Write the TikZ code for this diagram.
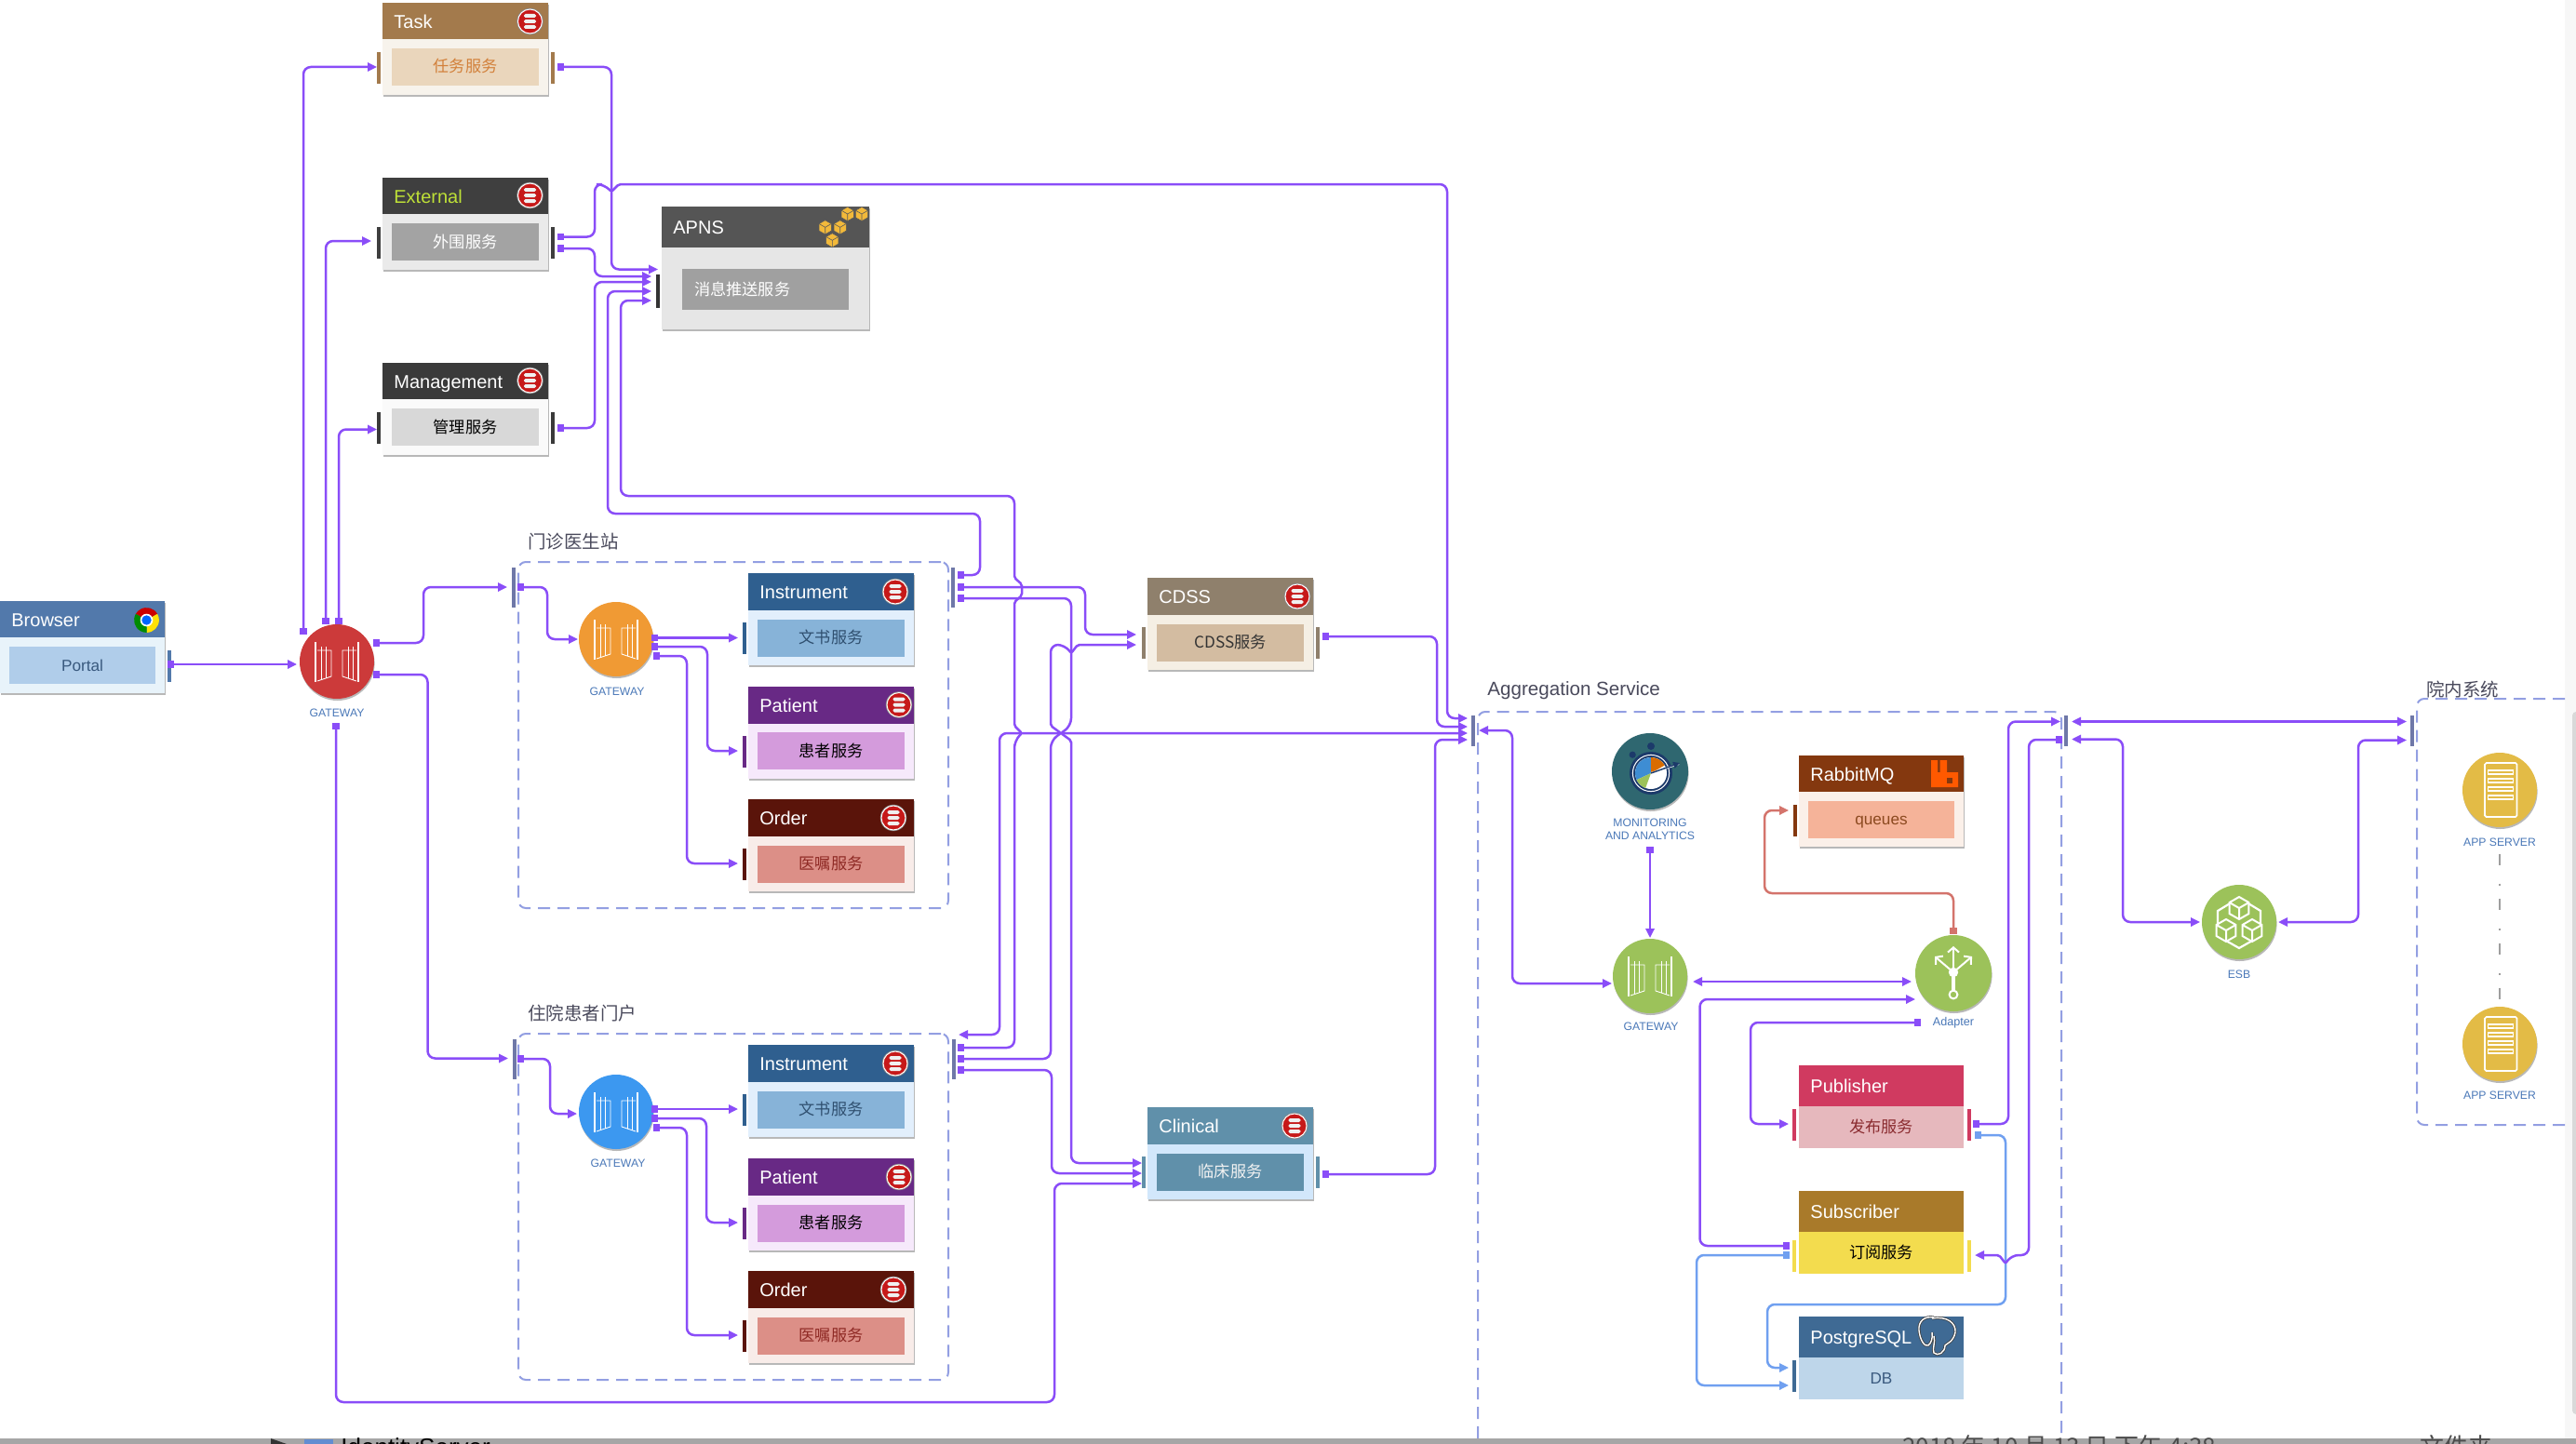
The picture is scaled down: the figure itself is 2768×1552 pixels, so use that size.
\documentclass[tikz,border=0pt]{standalone}
\usepackage{fontspec}
\setmainfont{Liberation Sans}
\newfontfamily\cjk{Noto Sans CJK SC}
\usetikzlibrary{arrows.meta,calc,shadows}

\definecolor{lnk}{HTML}{8A4DF8}
\definecolor{lnkblue}{HTML}{70A0F0}
\definecolor{lnkred}{HTML}{D4746C}
\definecolor{dashc}{HTML}{939FE2}
\definecolor{portc}{HTML}{6F78A8}
\definecolor{labelc}{HTML}{4A78B8}
\definecolor{grptext}{HTML}{4A4A5C}

\newcommand{\palette}[5]{%
  \definecolor{#1H}{HTML}{#2}\definecolor{#1B}{HTML}{#3}%
  \definecolor{#1I}{HTML}{#4}\definecolor{#1T}{HTML}{#5}}
\palette{task}{A37A4C}{F7F3EC}{EAD6BC}{D2803A}
\palette{ext}{3F3F3F}{EAEAEA}{A3A3A3}{FFFFFF}
\palette{mgt}{3A3A3A}{FAFAFA}{D8D8D8}{000000}
\palette{apns}{555555}{E6E6E6}{A0A0A0}{FFFFFF}
\palette{brw}{5279AB}{E8F3FA}{B0CDEA}{3A5A7F}
\palette{ins}{2F5F8F}{E2EFFC}{87B3D8}{2F4F6F}
\palette{pat}{682985}{F6E9FB}{D49BDC}{000000}
\palette{ord}{5A140A}{F8ECE9}{DC8F87}{8F2A25}
\palette{cds}{8F806C}{F5EFE4}{D3BCA1}{333333}
\palette{cli}{6090AA}{D2E7FB}{6090AA}{F2F2F2}
\palette{rab}{84380F}{FBF0E9}{F5B399}{8C4A20}
\palette{pub}{D03A60}{E6B8BD}{E6B8BD}{8A2B2F}
\palette{sub}{A97A2A}{F3DC4E}{F3DC4E}{000000}
\palette{pgs}{3F6A94}{BED6EA}{BED6EA}{3A5A7F}
\definecolor{gwredc}{HTML}{CC3A3A}
\definecolor{gworangec}{HTML}{F09A34}
\definecolor{gwbluec}{HTML}{3C98F0}
\definecolor{gwgreenc}{HTML}{9CC25A}
\definecolor{monitorc}{HTML}{2F6770}
\definecolor{serverc}{HTML}{E3BB46}
\definecolor{dialc}{HTML}{1C3A6A}
\definecolor{awsc}{HTML}{F2B93A}

\tikzset{
  softshadow/.style={drop shadow={shadow xshift=0.3pt,shadow yshift=-1pt,opacity=0.28,fill=black}},
  svcbody/.style={rectangle,anchor=north west,inner sep=0pt,outer sep=0pt,softshadow},
  svchead/.style={rectangle,anchor=north west,inner sep=0pt,outer sep=0pt},
  svctitle/.style={anchor=west,inner sep=0pt,yshift=-1.2pt,text=white,text height=7.2pt,text depth=2pt,font=\fontsize{10}{12}\selectfont},
  svcinner/.style={rectangle,inner sep=0pt,outer sep=0pt,text height=6.5pt,text depth=0.5pt,font=\fontsize{8.6}{10}\selectfont},
  portbar/.style={rectangle,inner sep=0pt,minimum width=2pt,minimum height=17pt},
  groupport/.style={portbar,fill=portc,minimum height=21.5pt},
  hostport/.style={portbar,fill=portc,minimum height=16.5pt},
  groupbox/.style={rectangle,draw=dashc,line width=1pt,dash pattern=on 6.5pt off 4pt,rounded corners=4pt,inner sep=0pt},
  grouptitle/.style={anchor=west,inner sep=0pt,text=grptext,font=\fontsize{9.75}{12}\selectfont},
  hub/.style={circle,minimum size=40pt,inner sep=0pt,softshadow},
  hublabel/.style={inner sep=0pt,align=center,yshift=-0.4pt,text=labelc,font=\fontsize{6.1}{7}\selectfont},
  link/.style={draw=lnk,line width=1.25pt,rounded corners=4pt,{Square[length=3.6pt]}-{Triangle[length=5pt,width=4.6pt]}},
  linkboth/.style={link,{Triangle[length=5pt,width=4.6pt]}-{Triangle[length=5pt,width=4.6pt]}},
  hop/.style={rounded corners=1pt},
}

% one service box: name, palette, x, y, w, h, header, title, text
\newcommand{\svcbox}[9]{%
  \node[svcbody,fill=#2B,minimum width=#5*0.5pt,minimum height=#6*0.5pt] (#1) at (#3,#4) {};
  \node[svchead,fill=#2H,minimum width=#5*0.5pt,minimum height=#7*0.5pt] (#1Head) at (#3,#4) {};
  \node[svctitle] (#1Title) at (#3+12,#4+#7/2) {#8};
  \node[svcinner,fill=#2I,text=#2T,minimum width=(#5-20)*0.5pt,minimum height=20pt] (#1Inner) at (#3+#5/2,{#4+(#6+#7)/2}) {#9};
}
% boxes of the aggregation group have no inset
\newcommand{\flatbox}[6]{%
  \node[svchead,fill=#2H,minimum width=88.5pt,minimum height=22pt] (#1Head) at (#3,#4) {};
  \node[svchead,fill=#2B,text=#2T,minimum width=88.5pt,minimum height=22.5pt,text height=6.5pt,text depth=0.5pt,font=\fontsize{8.6}{10}\selectfont] (#1) at (#3,#4+44) {#6};
  \node[svctitle] (#1Title) at (#3+12,#4+22) {#5};
}
\newcommand{\lport}[2]{\node[portbar,fill=#2H] (#1L) at ($(#1.north west)+(-4.5,70)$) {};}
\newcommand{\rport}[2]{\node[portbar,fill=#2H] (#1R) at ($(#1.north east)+(5,70)$) {};}

\newcommand{\dbicon}[2]{%
  \begin{scope}[shift={(#1,#2)}]
    \fill[black!45] (0,0) circle[radius=7.1pt];
    \filldraw[fill=red!75!black!90,draw=white,line width=0.5pt] (0,0) circle[radius=6.5pt];
    \foreach \b in {-6,0,6}
      \fill[white!88!gray,rounded corners=0.8pt] (-6.5,\b-2) rectangle (6.5,\b+2);
  \end{scope}}
\newcommand{\gateicon}[2]{%
  \begin{scope}[shift={(#1,#2)}]
    \foreach \s in {-1,1} {
      \draw[white,line width=1.4pt] (\s*23,-21) -- (\s*23,22);
      \draw[white,line width=0.45pt] (\s*21,-12) -- (\s*6,-12) -- (\s*6,16) -- (\s*21,21);
      \foreach \b in {17,12}
        \draw[white,line width=0.45pt] (\s*\b,-16) -- (\s*\b,{16+(\b-6)/3});
    }
  \end{scope}}
\newcommand{\isocube}[6]{%
  \begin{scope}[shift={(#1,#2)}]
    \filldraw[fill=#4,draw=#5,line width=#6] (0,-#3) -- (0.87*#3,-0.5*#3) -- (0.87*#3,0.5*#3) -- (0,#3)
      -- (-0.87*#3,0.5*#3) -- (-0.87*#3,-0.5*#3) -- cycle;
    \draw[#5,line width=#6] (-0.87*#3,-0.5*#3) -- (0,0) -- (0.87*#3,-0.5*#3) (0,0) -- (0,#3);
  \end{scope}}
\newcommand{\servericon}[2]{%
  \begin{scope}[shift={(#1,#2)},white]
    \draw[line width=0.8pt,rounded corners=0.8pt] (-16,-29) rectangle (18.5,29);
    \foreach \b in {-19,-10,-1,8}
      \draw[line width=0.6pt] (-12.5,\b-2) rectangle (14.5,\b+2);
  \end{scope}}

\begin{document}
\begin{tikzpicture}[x=0.5pt,y=-0.5pt]
\useasboundingbox (0,0) rectangle (2768,1552);
\fill[white] (0,0) rectangle (2768,1552);
\fill[black!3] (2756,0) rectangle (2768,1546);
\fill[black!15,rounded corners=2pt] (2764,765) rectangle (2776,1520);

% groups
\node[groupbox,minimum width=231pt,minimum height=186pt] (clinicGroup) at (788,790) {};
\node[grouptitle] (clinicTitle) at (567,582) {\cjk 门诊医生站};
\node[groupbox,minimum width=231pt,minimum height=186pt] (wardGroup) at (788,1297) {};
\node[grouptitle] (wardTitle) at (567,1089) {\cjk 住院患者门户};
\draw[dashc,line width=1pt,dash pattern=on 6.5pt off 4pt,rounded corners=4pt] (1588,1546) -- (1588,765) -- (2215,765) -- (2215,1546);
\node[grouptitle,font=\fontsize{10.3}{12}\selectfont] (aggTitle) at (1598,742) {Aggregation Service};
\draw[dashc,line width=1pt,dash pattern=on 6.5pt off 4pt,rounded corners=4pt] (2756,751) -- (2597,751) -- (2597,1209) -- (2756,1209);
\node[grouptitle] (hostTitle) at (2607,741) {\cjk 院内系统};

\node[groupport] (clinicL) at (552,631) {};
\node[groupport] (clinicR) at (1023.5,631) {};
\node[groupport] (wardL) at (552.5,1138) {};
\node[groupport] (wardR) at (1024.5,1138) {};
\node[hostport] (aggL) at (1583,785.5) {};
\node[hostport] (aggR) at (2220,785.5) {};
\node[hostport] (hostL) at (2592,785.5) {};

% services
\svcbox{task}{task}{411}{3}{178}{99}{39}{Task}{\cjk 任务服务}
\svcbox{ext}{ext}{411}{191}{178}{99}{39}{\textcolor{yellow!70!green!85}{External}}{\cjk 外围服务}
\svcbox{mgt}{mgt}{411}{390}{178}{99}{39}{Management}{\cjk 管理服务}
\node[svcbody,fill=apnsB,minimum width=111.5pt,minimum height=66pt] (apns) at (711,222) {};
\node[svchead,fill=apnsH,minimum width=111.5pt,minimum height=22pt] (apnsHead) at (711,222) {};
\node[svctitle] (apnsTitle) at (723,244) {APNS};
\node[svcinner,fill=apnsI,minimum width=89.5pt,minimum height=22pt] (apnsInner) at (822.5,311) {};
\node[svcinner,anchor=west,text=white] (apnsText) at (746,311) {\cjk 消息推送服务};
\node[portbar,fill=black!80,minimum height=18pt] (apnsL) at (707,313) {};
\svcbox{brw}{brw}{0}{646}{177}{99}{39}{Browser}{Portal}
\svcbox{insA}{ins}{804}{616}{178}{99}{40}{Instrument}{\cjk 文书服务}
\svcbox{patA}{pat}{804}{737.5}{178}{99}{40}{Patient}{\cjk 患者服务}
\svcbox{ordA}{ord}{804}{859}{178}{99}{40}{Order}{\cjk 医嘱服务}
\svcbox{insB}{ins}{804}{1123}{178}{99}{40}{Instrument}{\cjk 文书服务}
\svcbox{patB}{pat}{804}{1245}{178}{99}{40}{Patient}{\cjk 患者服务}
\svcbox{ordB}{ord}{804}{1366}{178}{99}{40}{Order}{\cjk 医嘱服务}
\svcbox{cds}{cds}{1233}{621}{178}{99}{40}{CDSS}{\cjk CDSS服务}
\svcbox{cli}{cli}{1233}{1190}{178}{99}{40}{Clinical}{\cjk 临床服务}
\svcbox{rab}{rab}{1933}{812}{177}{98}{39}{RabbitMQ}{queues}
\flatbox{pub}{pub}{1933}{1145}{Publisher}{\cjk 发布服务}
\flatbox{sbr}{sub}{1933}{1280}{Subscriber}{\cjk 订阅服务}
\flatbox{pgs}{pgs}{1933}{1415}{PostgreSQL}{DB}

\rport{brw}{brw}
\lport{task}{task} \rport{task}{task}
\lport{ext}{ext} \rport{ext}{ext}
\lport{mgt}{mgt} \rport{mgt}{mgt}
\lport{insA}{ins} \lport{patA}{pat} \lport{ordA}{ord}
\lport{insB}{ins} \lport{patB}{pat} \lport{ordB}{ord}
\lport{cds}{cds} \rport{cds}{cds}
\lport{cli}{cli} \rport{cli}{cli}
\lport{rab}{rab}
\node[portbar,fill=pubH] (pubL) at (1928,1208.5) {};
\node[portbar,fill=pubH] (pubR) at (2116,1208.5) {};
\node[portbar,fill=subB] (sbrL) at (1928,1349.5) {};
\node[portbar,fill=subB] (sbrR) at (2116,1349.5) {};
\node[portbar,fill=pgsH] (pgsL) at (1928,1479) {};

\foreach \x/\y in {569.5/23,569.5/210,569.5/409,962/636,966/757.5,960/879,962/1143,966/1265,960/1386,1394/641,1391/1210} {
  \dbicon{\x}{\y}
}

% icons on the header bars
\foreach \x/\y in {910.7/230,926/230,886.7/244.3,902.7/244.3,894.3/258.3} {
  \isocube{\x}{\y}{7.6}{awsc}{black!65}{0.3pt}
}
\begin{scope}[shift={(157.5,666.5)},y=0.5pt]
  \fill[red!80!black] (0,0) -- (30:6.7pt) arc[start angle=30,end angle=150,radius=6.7pt] -- cycle;
  \fill[yellow!85!orange] (0,0) -- (-90:6.7pt) arc[start angle=-90,end angle=30,radius=6.7pt] -- cycle;
  \fill[green!55!black] (0,0) -- (150:6.7pt) arc[start angle=150,end angle=270,radius=6.7pt] -- cycle;
  \fill[white] (0,0) circle[radius=3.4pt];
  \fill[blue!60!cyan] (0,0) circle[radius=2.6pt];
\end{scope}
\fill[orange!70!red] (2075,817) -- (2082,817) -- (2082,830) -- (2084.5,830) -- (2084.5,817) -- (2092,817) -- (2092,830)
  -- (2104,830) -- (2104,846) -- (2075,846) -- cycle;
\fill[rabH] (2092,836) rectangle (2098,842);
\begin{scope}[shift={(2082,1436)}]
  \foreach \c/\w in {black!75/1.5pt,white/0.7pt}
    \draw[\c,line width=\w] (-4,-20) .. controls (-14,-22) and (-21,-16) .. (-20,-6)
      .. controls (-19,4) and (-14,12) .. (-10,10) .. controls (-7,8) and (-5,2) .. (-6,-4)
      (-6,-19) .. controls (10,-22) and (20,-14) .. (19,-4) .. controls (17,6) and (10,8) .. (8,10)
      .. controls (8,18) and (0,22) .. (-4,18) .. controls (-6,14) and (-2,6) .. (-4,0);
\end{scope}

% gateways
\node[hub,fill=gwredc] (gwRed) at (362,711) {};
\node[hublabel] (gwRedLab) at (362,765) {GATEWAY};
\gateicon{362}{711}
\node[hub,fill=gworangec] (gwOrange) at (662,687) {};
\node[hublabel] (gwOrangeLab) at (663,742) {GATEWAY};
\gateicon{662}{687}
\node[hub,fill=gwbluec] (gwBlue) at (662,1195) {};
\node[hublabel] (gwBlueLab) at (664,1249) {GATEWAY};
\gateicon{662}{1195}
\node[hub,fill=gwgreenc] (gwGreen) at (1773,1049) {};
\node[hublabel] (gwGreenLab) at (1774,1102) {GATEWAY};
\gateicon{1773}{1049}

\node[hub,fill=monitorc,minimum size=41pt] (monitor) at (1773,829) {};
\node[hublabel] (monitorLab) at (1773,890) {MONITORING\\AND ANALYTICS};
\begin{scope}[shift={(1774,831)},y=0.5pt]
  \fill[dialc] (0,0) circle[radius=11.5pt];
  \fill[dialc] (0,14.5pt) circle[radius=2pt] (135:14pt) circle[radius=1.8pt];
  \draw[white,line width=0.5pt] (0,0) circle[radius=9.8pt];
  \fill[white] (0,0) circle[radius=8.5pt];
  \fill[cyan!60!blue!80] (0,0) -- (90:8.5pt) arc[start angle=90,end angle=205,radius=8.5pt] -- cycle;
  \fill[orange!85!black] (0,0) -- (30:8.5pt) arc[start angle=30,end angle=90,radius=8.5pt] -- cycle;
  \fill[gwgreenc] (0,0) -- (205:8.5pt) arc[start angle=205,end angle=250,radius=8.5pt] -- cycle;
  \draw[white,line width=1pt] (0,0) -- (15pt,5pt);
  \draw[dialc,line width=0.7pt,-{Triangle[length=3.5pt,width=3.5pt]}] (0,0) -- (15.5pt,5.5pt);
\end{scope}

\node[hub,fill=gwgreenc,minimum size=41pt] (adapter) at (2099,1046) {};
\node[hublabel,font=\fontsize{6.3}{7}\selectfont] (adapterLab) at (2099,1098) {Adapter};
\begin{scope}[shift={(2099,1045)},white,line width=1pt,-{Straight Barb[length=2.6pt,width=6pt]}]
  \draw (0,0) -- (0,-28);
  \draw (0,0) -- (-20,-17);
  \draw (0,0) -- (20,-17);
  \draw[-,line width=1.8pt] (0,0) -- (0,20);
  \fill[-] (0,0) circle[radius=2.6pt];
  \draw[-,fill=gwgreenc] (0,24) circle[radius=2.2pt];
\end{scope}

\node[hub,fill=gwgreenc] (esb) at (2406,991) {};
\node[hublabel] (esbLab) at (2406,1046) {ESB};
\draw[white,line width=1.1pt] (2383,979) -- (2406,965) -- (2429,979) -- (2429,1006) -- (2406,1019) -- (2383,1006) -- cycle;
\isocube{2406}{976}{12}{gwgreenc}{white}{1pt}
\isocube{2392}{1000}{12}{gwgreenc}{white}{1pt}
\isocube{2420}{1000}{12}{gwgreenc}{white}{1pt}

\node[hub,fill=serverc] (appA) at (2686,849) {};
\node[hublabel] (appALab) at (2686,904) {APP SERVER};
\servericon{2686}{849}
\node[hub,fill=serverc] (appB) at (2686,1122) {};
\node[hublabel] (appBLab) at (2686,1176) {APP SERVER};
\servericon{2686}{1122}
\draw[black!38,line width=1.2pt,dash pattern=on 6pt off 10pt on 1pt off 7pt,shorten <=4pt,shorten >=2pt] (appALab.south) -- (appB.north);

% connector ends
\foreach \n/\x/\y in {gwTask/326/682,gwExt/350/671,gwMgt/364/671,gwClin/361/777,gwOutA/401/691,gwOutB/401/725,
    taskIn/405/72,extIn/399/259,mgtIn/405/461.5,gwIn/319/714,brwOut/180/714,clinicIn/545/631,wardIn/546/1137.5,
    clinicOut/556/631,orgIn/621/687,orgA/700/685.5,orgB/700/695,orgC/702/705,insAIn/793/685.5,patAIn/793/807,ordAIn/793/928,
    wardOut/556/1138,bluIn/620/1197,bluA/700/1192,bluB/700/1202,bluC/702/1212,insBIn/793/1192,patBIn/793/1314,ordBIn/793/1435,
    taskOut/599/72,extOutA/599/254.5,extOutB/599/267,mgtOut/599/460,
    apnsA/707/289.5,apnsB/700/297,apnsC/700/303,apnsD/700/313,apnsE/700/323,
    clinicA/1029/618,clinicB/1029/631,clinicC/1029/643,wardT/1030/1112,wardA/1029/1126,wardB/1029/1138,wardC/1029/1150,
    cdsA/1221/682,cdsB/1221/693,cliA/1227/1250,cliB/1227/1261,cliC/1227/1272,cdsOut/1421/684,cliOut/1421/1262,
    aggA/1577/772,aggB/1577/781,aggC/1577/788,aggD/1577/795,aggIn/1589/785,gwGreenIn/1732/1057,
    monOut/1773/910,gwGreenTop/1773/1008,gwGreenR/1819/1055,adapL/2054/1055,adapIn/2058/1074,adapOut/2064/1099,adapTop/2099/1004,
    rabIn/1922/871,pubIn/1922/1208,pubOut/2120/1208,pubOutB/2122/1220,pgsInA/1922/1470,pgsInB/1922/1489,
    sbrOut/1923/1339,sbrOutB/1923/1349,sbrIn/2122/1349,aggRA/2214/775.5,aggRB/2216/795,
    aggOutA/2226/775.5,aggOutB/2226/794.5,hostA/2586/775.5,hostB/2586/795.5,esbL/2364/991,esbR/2448/991}
  \coordinate (\n) at (\x,\y);

% connectors
\draw[link] (brwOut) -- (gwIn);
\draw[link] (gwTask) |- (taskIn);
\draw[link] (gwExt) |- (extIn);
\draw[link] (gwMgt) |- (mgtIn);
\draw[link] (gwOutA) -- ++(54,0) |- (clinicIn);
\draw[link] (gwOutB) -- ++(58.5,0) |- (wardIn);
\draw[link] (clinicOut) -- ++(32,0) |- (orgIn);
\draw[link] (orgA) -- (insAIn);
\draw[link] (orgB) -- ++(60,0) |- (patAIn);
\draw[link] (orgC) -- ++(36,0) |- (ordAIn);
\draw[link] (wardOut) -- ++(35,0) |- (bluIn);
\draw[link] (bluA) -- (insBIn);
\draw[link] (bluB) -- ++(59,0) |- (patBIn);
\draw[link] (bluC) -- ++(36,0) |- (ordBIn);

\draw[link] (taskOut) -- ++(58,0) |- (apnsA);
\draw[link] (extOutB) -- ++(40,0) |- (apnsB);
\draw[link] (mgtOut) -- ++(40,0) |- (apnsC);
\draw[link] (extOutA) -- ++(40,0) -- (639,198) -- (649,198) [hop] -- (657,206) -- (665,198) [rounded corners=4pt] -- (1555,198) |- (aggA);
\draw[link] (clinicA) -| (1053,552) -- (653,552) |- (apnsD);
\draw[link] (wardA) -- (1090,1126) -- (1090,796) [hop] -- (1098,788) -- (1090,780) -- (1090,647) -- (1098,640) -- (1098,628) -- (1090,621)
  [rounded corners=4pt] -- (1090,533) -- (667,533) |- (apnsE);

\draw[link] (clinicB) -- ++(137,0) |- (cdsA);
\draw[link] (clinicC) -- (1151,643) -- (1151,780) [hop] -- (1140,788) -- (1151,796) [rounded corners=4pt] -- (1151,1250) -- (cliA);
\draw[link] (wardB) -- (1129,1138) -- (1129,796) [hop] -- (1140,788) -- (1129,780) [rounded corners=4pt] -- (1129,693) -- (1144,693) [hop] -- (1151,702) -- (1158,693) -- (cdsB);
\draw[link] (wardC) -- ++(101,0) |- (cliB);
\draw[link] (gwClin) |- (1133,1507) |- (cliC);
\draw[linkboth] (aggC) -- (1074,788) |- (wardT);
\draw[link] (cdsOut) -- ++(123,0) |- (aggB);
\draw[link] (cliOut) -- ++(121,0) |- (aggD);

\draw[linkboth] (aggIn) -- ++(36,0) |- (gwGreenIn);
\draw[link] (monOut) -- (gwGreenTop);
\draw[linkboth] (gwGreenR) -- (adapL);
\draw[link] (sbrOut) -- ++(-96.5,0) |- (adapIn);
\draw[link] (adapOut) -- ++(-183,0) |- (pubIn);
\draw[link,draw=lnkred] (adapTop) -- (2099,960) -- (1896,960) |- (rabIn);
\draw[link,draw=lnkblue] (pubOutB) -- ++(33,0) -- (2155,1402) -- (1899,1402) |- (pgsInA);
\draw[link,draw=lnkblue] (sbrOutB) -- ++(-100,0) |- (pgsInB);
\draw[link] (pubOut) -- ++(38,0) |- (aggRA);
\draw[link] (aggRB) -- (2180,795) -- (2180,1349) -- (2161,1349) [hop] -- (2155,1358) -- (2148,1349) -- (sbrIn);
\draw[linkboth] (aggOutA) -- (hostA);
\draw[linkboth] (aggOutB) -- ++(55,0) |- (esbL);
\draw[linkboth] (esbR) -- ++(86,0) |- (hostB);

% bottom edge of the window
\fill[black!35] (0,1546) rectangle (2768,1552);
\fill[black!80] (291,1546) -- (308,1552) -- (291,1552) -- cycle;
\fill[cyan!45!blue!65] (327,1547) rectangle (358,1552);
\node[anchor=base west,inner sep=0pt,font=\fontsize{13}{15}\selectfont] (fileName) at (366,1564) {IdentityServer};
\node[anchor=base west,inner sep=0pt,text=black!70,font=\fontsize{13}{15}\selectfont] (fileDate) at (2044,1564) {\cjk 2018 年 10 月 13 日 下午 4:38};
\node[anchor=base west,inner sep=0pt,text=black!70,font=\fontsize{13}{15}\selectfont] (fileKind) at (2600,1564) {\cjk 文件夹};
\end{tikzpicture}
\end{document}
